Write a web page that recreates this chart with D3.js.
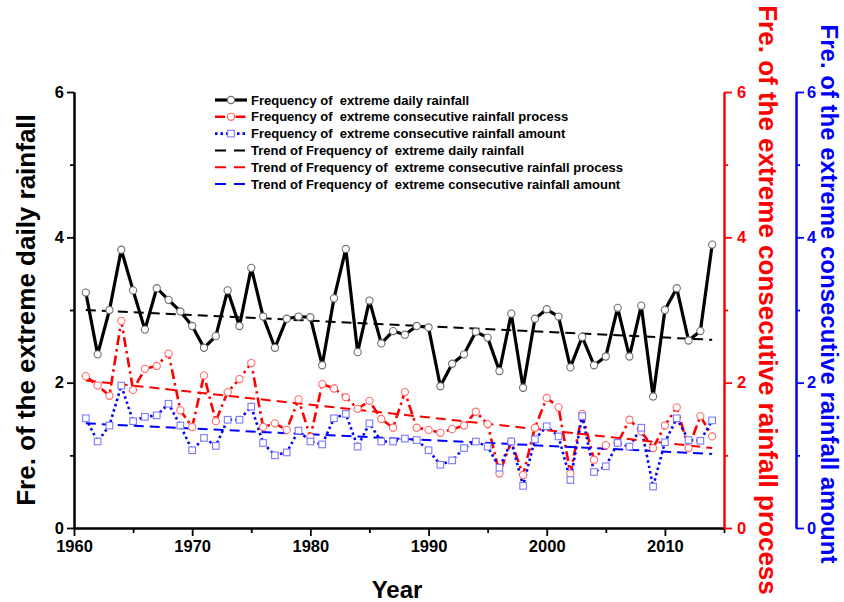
<!DOCTYPE html>
<html>
<head>
<meta charset="utf-8">
<script src="https://cdn.jsdelivr.net/npm/d3@7"></script>
<style>
  html, body { margin: 0; padding: 0; background: #fff; }
  svg { display: block; }
  text { font-family: "Liberation Sans", Arial, sans-serif; font-weight: bold; }
</style>
</head>
<body>
<svg id="chart" width="844" height="602"></svg>
<script>
// ---------- data ----------
const years = [1961,1962,1963,1964,1965,1966,1967,1968,1969,1970,
               1971,1972,1973,1974,1975,1976,1977,1978,1979,1980,
               1981,1982,1983,1984,1985,1986,1987,1988,1989,1990,
               1991,1992,1993,1994,1995,1996,1997,1998,1999,2000,
               2001,2002,2003,2004,2005,2006,2007,2008,2009,2010,
               2011,2012,2013,2014];
const dailyFreq = [3.24,2.39,3.00,3.83,3.27,2.73,3.30,3.14,2.98,2.78,
                   2.48,2.64,3.27,2.78,3.58,2.91,2.48,2.88,2.91,2.90,
                   2.24,3.16,3.84,2.42,3.13,2.54,2.71,2.66,2.78,2.76,
                   1.95,2.26,2.39,2.70,2.62,2.16,2.95,1.93,2.88,3.01,
                   2.91,2.21,2.63,2.24,2.36,3.03,2.36,3.06,1.81,3.00,
                   3.30,2.58,2.71,3.90];
const processFreq = [2.09,1.96,1.82,2.85,1.90,2.19,2.23,2.40,1.62,1.39,
                     2.10,1.47,1.87,2.05,2.27,1.39,1.44,1.35,1.77,1.25,
                     1.98,1.92,1.80,1.64,1.75,1.50,1.38,1.87,1.38,1.35,
                     1.31,1.36,1.41,1.60,1.43,0.75,1.19,0.73,1.38,1.79,
                     1.66,0.75,1.57,0.94,1.14,1.17,1.49,1.33,1.10,1.41,
                     1.66,1.10,1.54,1.26];
const amountFreq = [1.51,1.19,1.41,1.96,1.47,1.53,1.55,1.71,1.41,1.07,
                    1.24,1.13,1.49,1.49,1.67,1.17,1.00,1.04,1.34,1.19,
                    1.15,1.51,1.57,1.12,1.44,1.19,1.19,1.23,1.21,1.07,
                    0.87,0.93,1.10,1.19,1.12,0.83,1.19,0.58,1.22,1.40,
                    1.26,0.66,1.54,0.77,0.85,1.17,1.12,1.38,0.57,1.18,
                    1.51,1.21,1.20,1.48];
// trend lines: [value at first year, value at last year]
const trendYears = [1961, 2014];
const dailyTrend = [3.00, 2.59];
const processTrend = [2.03, 1.10];
const amountTrend = [1.44, 1.02];

const xMajorTicks = [1960,1970,1980,1990,2000,2010];
const xMinorTicks = [1965,1975,1985,1995,2005,2015];
const yMajorTicks = [0,2,4,6];
const yMinorTicks = [1,3,5];

const legendLabels = [
  "Frequency of  extreme daily rainfall",
  "Frequency of  extreme consecutive rainfall process",
  "Frequency of  extreme consecutive rainfall amount",
  "Trend of Frequency of  extreme daily rainfall",
  "Trend of Frequency of  extreme consecutive rainfall process",
  "Trend of Frequency of  extreme consecutive rainfall amount"
];
const axisTitles = {
  left: "Fre. of the extreme daily rainfall",
  red: "Fre. of the extreme consecutive rainfall process",
  blue: "Fre. of the extreme consecutive rainfall amount",
  x: "Year"
};

// ---------- layout ----------
const svg = d3.select("#chart");
const X0 = 74, X1 = 724, Y0 = 528, Y1 = 92;
const BLUE_AXIS_X = 796;
const x = d3.scaleLinear().domain([1960, 2015]).range([X0, X1]);
const yL = d3.scaleLinear().domain([0, 6]).range([Y0, Y1]);
const yR = d3.scaleLinear().domain([0, 6]).range([Y0, Y1]);
const yB = d3.scaleLinear().domain([0, 6]).range([Y0, Y1]);

function styleAxis(g, color, fontSize) {
  g.selectAll("path.domain").attr("stroke", color).attr("stroke-width", 2);
  g.selectAll(".tick line").attr("stroke", color).attr("stroke-width", 1.8);
  g.selectAll(".tick text").attr("fill", color)
    .style("font-size", fontSize + "px").style("font-weight", "bold")
    .style("font-family", '"Liberation Sans", Arial, sans-serif');
}

// X axis
const gxMinor = svg.append("g").attr("transform", `translate(0,${Y0})`)
  .call(d3.axisBottom(x).tickValues(xMinorTicks).tickSize(5).tickSizeOuter(0).tickFormat(""));
styleAxis(gxMinor, "#000", 16);
const gx = svg.append("g").attr("transform", `translate(0,${Y0})`)
  .call(d3.axisBottom(x).tickValues(xMajorTicks).tickSize(8).tickSizeOuter(0).tickPadding(4).tickFormat(d3.format("d")));
styleAxis(gx, "#000", 16.5);

// Left axis
const gyMinor = svg.append("g").attr("transform", `translate(${X0},0)`)
  .call(d3.axisLeft(yL).tickValues(yMinorTicks).tickSize(4).tickSizeOuter(0).tickFormat(""));
styleAxis(gyMinor, "#000", 16);
const gy = svg.append("g").attr("transform", `translate(${X0},0)`)
  .call(d3.axisLeft(yL).tickValues(yMajorTicks).tickSize(7).tickSizeOuter(0).tickPadding(3).tickFormat(d3.format("d")));
styleAxis(gy, "#000", 16.5);

// Red right axis
const grMinor = svg.append("g").attr("transform", `translate(${X1},0)`)
  .call(d3.axisRight(yR).tickValues(yMinorTicks).tickSize(4).tickSizeOuter(0).tickFormat(""));
styleAxis(grMinor, "#ff0000", 16);
const gr = svg.append("g").attr("transform", `translate(${X1},0)`)
  .call(d3.axisRight(yR).tickValues(yMajorTicks).tickSize(8).tickSizeOuter(0).tickPadding(5).tickFormat(d3.format("d")));
styleAxis(gr, "#ff0000", 16.5);

// Blue right axis
const gbMinor = svg.append("g").attr("transform", `translate(${BLUE_AXIS_X},0)`)
  .call(d3.axisRight(yB).tickValues(yMinorTicks).tickSize(4).tickSizeOuter(0).tickFormat(""));
styleAxis(gbMinor, "#0000ff", 16);
const gb = svg.append("g").attr("transform", `translate(${BLUE_AXIS_X},0)`)
  .call(d3.axisRight(yB).tickValues(yMajorTicks).tickSize(8).tickSizeOuter(0).tickPadding(3).tickFormat(d3.format("d")));
styleAxis(gb, "#0000ff", 16.5);

// Axis titles
svg.append("text").attr("transform", `translate(35,310) rotate(-90)`)
  .attr("text-anchor", "middle").style("font-size", "26px").attr("fill", "#000")
  .text(axisTitles.left);
svg.append("text").attr("transform", `translate(759,300) rotate(90)`)
  .attr("text-anchor", "middle").style("font-size", "26px").attr("fill", "#ff0000")
  .text(axisTitles.red);
svg.append("text").attr("transform", `translate(821,294) rotate(90)`)
  .attr("text-anchor", "middle").style("font-size", "24px").attr("fill", "#0000ff")
  .text(axisTitles.blue);
svg.append("text").attr("x", 397).attr("y", 598)
  .attr("text-anchor", "middle").style("font-size", "24px").attr("fill", "#000")
  .text(axisTitles.x);

// ---------- series ----------
const series = [
  { values: dailyFreq, y: yL, color: "#000000", width: 3.2, dash: null, marker: "circle", mStroke: "#6e6e6e" },
  { values: processFreq, y: yR, color: "#ff0000", width: 2.6, dash: "10,4,2.5,4", marker: "circle", mStroke: "#ff6a6a" },
  { values: amountFreq, y: yB, color: "#0000ff", width: 2.6, dash: "2.5,3", marker: "square", mStroke: "#7a7aff" }
];
const trends = [
  { values: dailyTrend, y: yL, color: "#000000" },
  { values: processTrend, y: yR, color: "#ff0000" },
  { values: amountTrend, y: yB, color: "#0000ff" }
];

const plot = svg.append("g");
series.forEach(s => {
  const line = d3.line().x((d, i) => x(years[i])).y(d => s.y(d));
  plot.append("path").datum(s.values).attr("d", line)
    .attr("fill", "none").attr("stroke", s.color).attr("stroke-width", s.width)
    .attr("stroke-linejoin", "round")
    .attr("stroke-dasharray", s.dash);
});
trends.forEach(t => {
  const line = d3.line().x((d, i) => x(trendYears[i])).y(d => t.y(d));
  plot.append("path").datum(t.values).attr("d", line)
    .attr("fill", "none").attr("stroke", t.color).attr("stroke-width", 2)
    .attr("stroke-dasharray", "10,6");
});
series.forEach(s => {
  const g = plot.append("g");
  if (s.marker === "circle") {
    g.selectAll("circle").data(s.values).join("circle")
      .attr("cx", (d, i) => x(years[i])).attr("cy", d => s.y(d)).attr("r", 3.6)
      .attr("fill", "#fff").attr("stroke", s.mStroke).attr("stroke-width", 1.1);
  } else {
    g.selectAll("rect").data(s.values).join("rect")
      .attr("x", (d, i) => x(years[i]) - 3.3).attr("y", d => s.y(d) - 3.3)
      .attr("width", 6.6).attr("height", 6.6)
      .attr("fill", "#fff").attr("stroke", s.mStroke).attr("stroke-width", 1.1);
  }
});

// ---------- legend ----------
const LX = 215, LY = 100, LDY = 16.8;
const legend = svg.append("g");
legendLabels.forEach((label, i) => {
  const yy = LY + i * LDY;
  if (i < 3) {
    const s = series[i];
    legend.append("line").attr("x1", LX).attr("x2", LX + 32).attr("y1", yy).attr("y2", yy)
      .attr("stroke", s.color).attr("stroke-width", s.width).attr("stroke-dasharray", s.dash);
    if (s.marker === "circle") {
      legend.append("circle").attr("cx", LX + 16).attr("cy", yy).attr("r", 3.6)
        .attr("fill", "#fff").attr("stroke", s.mStroke).attr("stroke-width", 1.1);
    } else {
      legend.append("rect").attr("x", LX + 16 - 3.3).attr("y", yy - 3.3).attr("width", 6.6).attr("height", 6.6)
        .attr("fill", "#fff").attr("stroke", s.mStroke).attr("stroke-width", 1.1);
    }
  } else {
    const t = trends[i - 3];
    legend.append("line").attr("x1", LX).attr("x2", LX + 32).attr("y1", yy).attr("y2", yy)
      .attr("stroke", t.color).attr("stroke-width", 2).attr("stroke-dasharray", "11,8");
  }
  legend.append("text").attr("x", LX + 36).attr("y", yy + 4.5)
    .attr("xml:space", "preserve").style("white-space", "pre")
    .style("font-size", "13px").attr("fill", "#000").text(label);
});
</script>
</body>
</html>
